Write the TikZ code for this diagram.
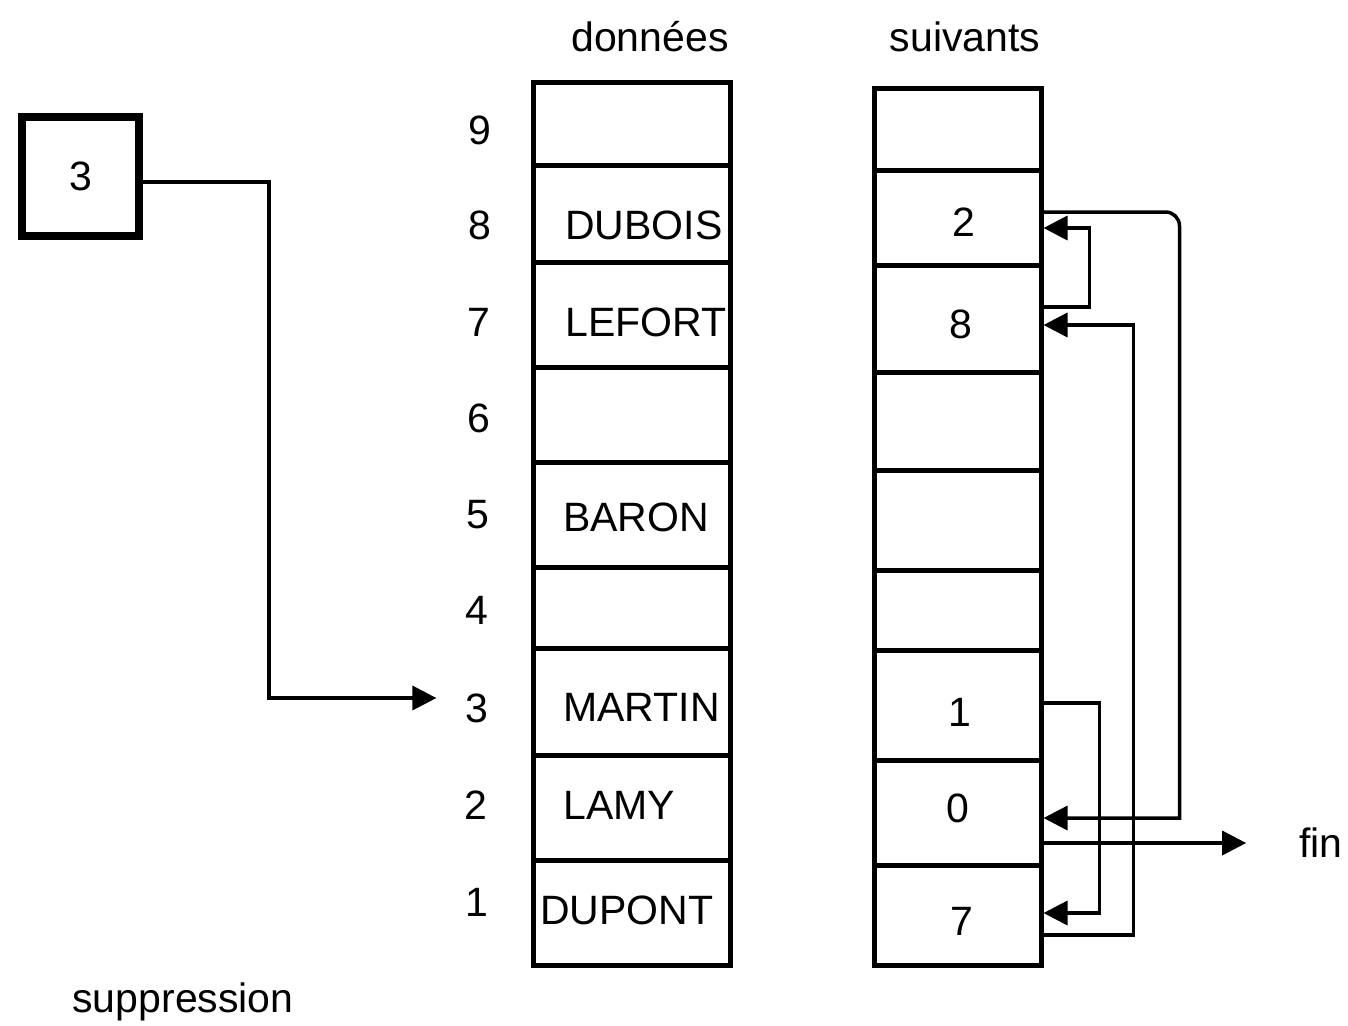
\documentclass[tikz,border=0pt]{standalone}
\usepackage{fontspec}
\setmainfont{Liberation Sans}
\usetikzlibrary{arrows.meta}
\begin{document}
\begin{tikzpicture}[x=1pt,y=-1pt,
  every node/.style={font=\fontsize{41}{48}\selectfont},
  dcell/.style={draw, line width=5pt, minimum width=197pt, inner sep=0pt},
  scell/.style={draw, line width=5pt, minimum width=167pt, inner sep=0pt},
  idx/.style={inner sep=0pt},
  txt/.style={inner sep=0pt, anchor=west},
  conn/.style={line width=3.5pt, -{Triangle[length=24pt,width=24pt]}}]
\useasboundingbox (0,0) rectangle (1348,1025);
% titles
\node[idx] (tdon) at (650,37) {données};
\node[idx] (tsui) at (965,37) {suivants};
% données column
\node[dcell, minimum height=83pt]  (d9) at (631.5,123.5) {};
\node[dcell, minimum height=97pt]  (d8) at (631.5,213.5) {};
\node[dcell, minimum height=105pt] (d7) at (631.5,314.5) {};
\node[dcell, minimum height=95pt]  (d6) at (631.5,414.5) {};
\node[dcell, minimum height=105pt] (d5) at (631.5,514.5) {};
\node[dcell, minimum height=81pt]  (d4) at (631.5,607.5) {};
\node[dcell, minimum height=107pt] (d3) at (631.5,701.5) {};
\node[dcell, minimum height=105pt] (d2) at (631.5,807.5) {};
\node[dcell, minimum height=105pt] (d1) at (631.5,912.5) {};
\node[txt] (t8) at (565,225) {DUBOIS};
\node[txt] (t7) at (565,322) {LEFORT};
\node[txt] (t5) at (563,517) {BARON};
\node[txt] (t3) at (563,707) {MARTIN};
\node[txt] (t2) at (563,805) {LAMY};
\node[txt] (t1) at (540,910) {DUPONT};
% index numbers
\node[idx] (n9) at (480,130) {9};
\node[idx] (n8) at (480,225) {8};
\node[idx] (n7) at (479,322) {7};
\node[idx] (n6) at (479,418) {6};
\node[idx] (n5) at (478,515) {5};
\node[idx] (n4) at (477,610) {4};
\node[idx] (n3) at (477,708) {3};
\node[idx] (n2) at (476,805) {2};
\node[idx] (n1) at (477,902) {1};
% suivants column
\node[scell, minimum height=82pt]  (s9) at (957.5,129) {};
\node[scell, minimum height=95pt]  (s8) at (957.5,217.5) {};
\node[scell, minimum height=107pt] (s7) at (957.5,318.5) {};
\node[scell, minimum height=98pt]  (s6) at (957.5,421) {};
\node[scell, minimum height=100pt] (s5) at (957.5,520) {};
\node[scell, minimum height=80pt]  (s4) at (957.5,610) {};
\node[scell, minimum height=110pt] (s3) at (957.5,705) {};
\node[scell, minimum height=105pt] (s2) at (957.5,812.5) {};
\node[scell, minimum height=100pt] (s1) at (957.5,915) {};
\node[idx] (v8) at (964,222) {2};
\node[idx] (v7) at (961,324) {8};
\node[idx] (v3) at (960,712) {1};
\node[idx] (v2) at (958,808) {0};
\node[idx] (v1) at (962,921) {7};
% head box
\node[draw, line width=8pt, minimum width=117pt, minimum height=119pt, inner sep=0pt] (b3) at (80.5,176) {3};
\node[idx] (fin) at (1321,843) {fin};
\node[idx] (supp) at (183,1002) {suppression};
% connectors
\draw[conn, shorten >=29pt] ([yshift=-6pt]b3.east) -- ++(126,0) |- ([yshift=10pt]n3.west);
\draw[conn] ([yshift=11.5pt]s7.east) -- ++(46,0) |- ([yshift=-10.5pt]s8.east);
\draw[conn, rounded corners=14pt] ([yshift=5.5pt]s8.east) -- ++(136,0) [sharp corners] |- ([yshift=-5.5pt]s2.east);
\draw[conn] ([yshift=-20pt]s1.east) -- ++(90,0) |- ([yshift=-6.5pt]s7.east);
\draw[conn] ([yshift=2pt]s3.east) -- ++(56,0) |- ([yshift=2pt]s1.east);
\draw[conn, shorten >=53pt] (s2.east |- fin.west) -- (fin.west);
\end{tikzpicture}
\end{document}
